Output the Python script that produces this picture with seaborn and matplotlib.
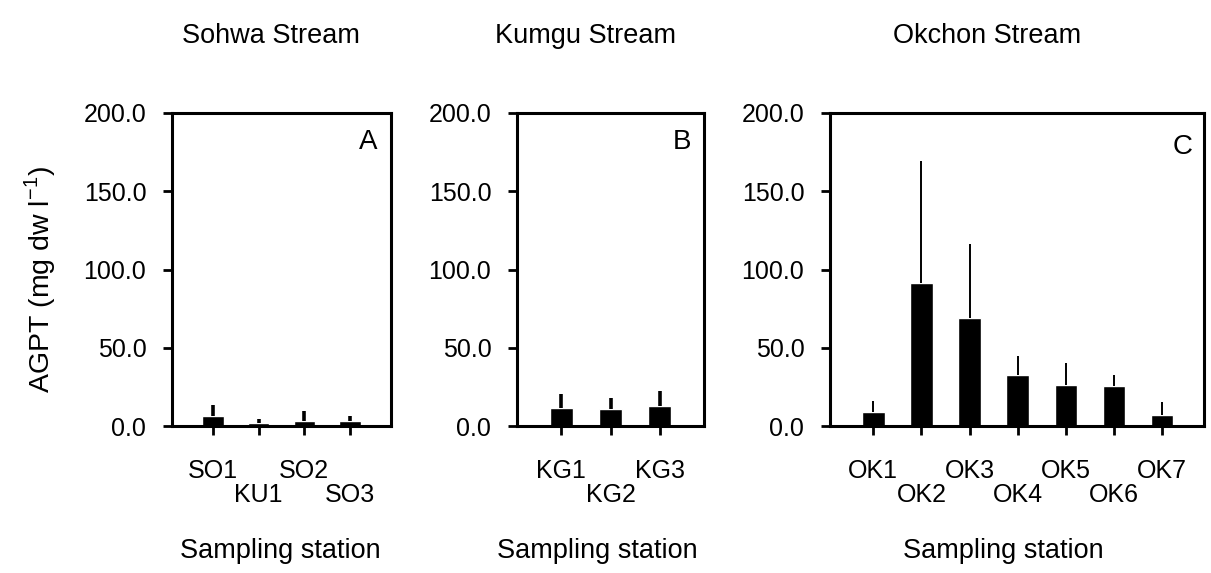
import matplotlib

matplotlib.use("Agg")

import matplotlib.pyplot as plt
import numpy as np
import pandas as pd
import seaborn as sns

# AGPT means (mg dw l-1) and upper SD per station
SOHWA_STATIONS = ["SO1", "KU1", "SO2", "SO3"]
SOHWA_MEAN = [6.4, 2.0, 3.0, 3.0]
SOHWA_SD = [7.1, 2.5, 6.6, 3.4]

KUMGU_STATIONS = ["KG1", "KG2", "KG3"]
KUMGU_MEAN = [11.5, 10.9, 12.8]
KUMGU_SD = [9.0, 7.1, 9.6]

OKCHON_STATIONS = ["OK1", "OK2", "OK3", "OK4", "OK5", "OK6", "OK7"]
OKCHON_MEAN = [9.2, 91.2, 69.0, 32.7, 26.3, 25.4, 7.2]
OKCHON_SD = [6.8, 78.2, 47.0, 12.3, 13.9, 7.5, 8.0]

YTICKS = [0, 50, 100, 150, 200]

W, H = 1211, 573


def fx(px):
    return px / W


def fy(py):
    return 1 - py / H


def panel(fig, rect, stations, mean, sd, letter, letter_xy, elw, right=0.9):
    ax = fig.add_axes(rect)
    df = pd.DataFrame({"station": stations, "agpt": mean, "sd": sd})
    sns.barplot(data=df, x="station", y="agpt", color="black", saturation=1,
                width=0.47, errorbar=None, ax=ax, zorder=2)
    ax.errorbar(np.arange(len(df)), df["agpt"], yerr=[np.zeros(len(df)), df["sd"]],
                fmt="none", ecolor="black", elinewidth=elw, capsize=0, zorder=3)
    ax.set_xlim(-0.9, len(df) - 1 + right)
    ax.set_ylim(0, 200)
    ax.set_yticks(YTICKS)
    ax.set_yticklabels([f"{v:.1f}" for v in YTICKS])
    labels = [s if i % 2 == 0 else "\n" + s for i, s in enumerate(stations)]
    ax.set_xticks(np.arange(len(df)))
    ax.set_xticklabels(labels, linespacing=1.0)
    ax.set_xlabel("")
    ax.set_ylabel("")
    for sp in ax.spines.values():
        sp.set_linewidth(2.2)
        sp.set_color("black")
    ax.tick_params(axis="both", direction="out", length=6.5, width=2.0,
                   labelsize=18, colors="black")
    ax.tick_params(axis="y", pad=12)
    ax.tick_params(axis="x", pad=17)
    fig.text(fx(letter_xy[0]), fy(letter_xy[1]), letter, fontsize=20,
             ha="center", va="center")
    return ax


sns.set_theme(style="ticks")
plt.rcParams["font.family"] = ["Liberation Sans", "DejaVu Sans"]
plt.rcParams["text.color"] = "black"

fig = plt.figure(figsize=(W / 100, H / 100), dpi=100)

bottom = fy(426)
height = (426 - 113) / H

panel(fig, [fx(172), bottom, fx(391 - 172), height], SOHWA_STATIONS, SOHWA_MEAN,
      SOHWA_SD, "A", (368, 142), 2.6)
panel(fig, [fx(517), bottom, fx(704 - 517), height], KUMGU_STATIONS, KUMGU_MEAN,
      KUMGU_SD, "B", (682, 142), 2.6)
panel(fig, [fx(830), bottom, fx(1204 - 830), height], OKCHON_STATIONS, OKCHON_MEAN,
      OKCHON_SD, "C", (1183, 147), 1.4, right=0.87)

for x, title in [(182, "Sohwa Stream"), (495, "Kumgu Stream"), (893, "Okchon Stream")]:
    fig.text(fx(x), fy(36), title, fontsize=19.5, ha="left", va="center")

for x in [180, 497, 903]:
    fig.text(fx(x), fy(551), "Sampling station", fontsize=19.5, ha="left", va="center")

fig.text(fx(40), fy(280), r"AGPT (mg dw l$^{\mathregular{-1}}$)", fontsize=20.5,
         rotation=90, ha="center", va="center")

fig.savefig("out.png", dpi=100)
